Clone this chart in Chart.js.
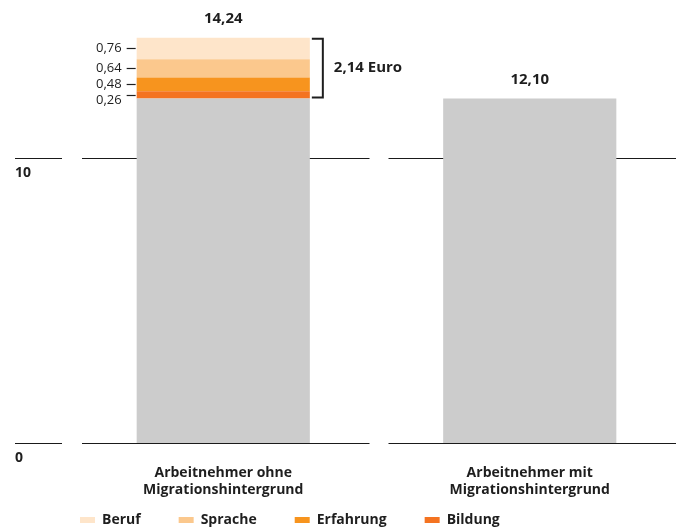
<!DOCTYPE html>
<html>
<head>
<meta charset="utf-8">
<script src="https://cdn.jsdelivr.net/npm/chart.js@4"></script>
<style>
  body { margin: 0; background: #fff; }
  #wrap { width: 683px; height: 532px; position: relative; }
</style>
</head>
<body>
<div id="wrap"><canvas id="lohnChart"></canvas></div>
<script>
// Daten
const categories = [['Arbeitnehmer ohne', 'Migrationshintergrund'], ['Arbeitnehmer mit', 'Migrationshintergrund']];
const basis = [12.10, 12.10];
const bildung = [0.26, null];
const erfahrung = [0.48, null];
const sprache = [0.64, null];
const beruf = [0.76, null];
const totals = [14.24, 12.10];
const yTickLabels = [0, 10];
const differenzLabel = '2,14 Euro';

const FONT = '"Open Sans", sans-serif';
const TXT = '#1e1e1e';
const fmt = v => v.toFixed(2).replace('.', ',');

// Unterbrochene Gitterlinien + Beschriftungen
const annotations = {
    id: 'annotations',
    beforeDatasetsDraw(chart) {
        const { ctx, chartArea, scales: { x, y } } = chart;
        const catW = x.width / categories.length;
        ctx.save();
        ctx.strokeStyle = '#1a1a1a';
        ctx.lineWidth = 1.2;
        yTickLabels.forEach(v => {
            const py = Math.round(y.getPixelForValue(v)) + 0.5;
            ctx.beginPath();
            ctx.moveTo(15, py); ctx.lineTo(chartArea.left - 8, py);
            categories.forEach((c, i) => {
                const cx = x.getPixelForValue(i);
                ctx.moveTo(cx - catW / 2 + 12, py);
                ctx.lineTo(cx + catW / 2 - 7, py);
            });
            ctx.stroke();
            ctx.fillStyle = TXT;
            ctx.font = 'bold 14px ' + FONT;
            ctx.textAlign = 'left';
            ctx.textBaseline = 'middle';
            ctx.fillText(String(v), 15, py + 15);
        });
        ctx.restore();
    },
    afterDatasetsDraw(chart) {
        const { ctx, scales: { x, y } } = chart;
        ctx.save();
        ctx.fillStyle = TXT;
        ctx.strokeStyle = TXT;

        // Summen über den Balken
        ctx.font = 'bold 15px ' + FONT;
        ctx.textAlign = 'center';
        ctx.textBaseline = 'middle';
        totals.forEach((t, i) => {
            ctx.fillText(fmt(t), x.getPixelForValue(i), y.getPixelForValue(t) - 19);
        });

        // Segmentwerte links vom ersten Balken
        const bar = chart.getDatasetMeta(0).data[0];
        const left = bar.x - bar.width / 2;
        const right = bar.x + bar.width / 2;
        const segs = [beruf, sprache, erfahrung, bildung];
        let base = totals[0];
        let lastY = -100;
        ctx.font = '13px ' + FONT;
        ctx.textAlign = 'right';
        ctx.lineWidth = 1.2;
        segs.forEach(s => {
            const v = s[0];
            const yc = y.getPixelForValue(base - v / 2);
            base -= v;
            const ty = Math.round(yc) + 0.5;
            ctx.beginPath();
            ctx.moveTo(left - 10, ty); ctx.lineTo(left - 1, ty);
            ctx.stroke();
            const ly = Math.max(yc, lastY + 16);
            lastY = ly;
            ctx.fillText(fmt(v), left - 15, ly);
        });

        // Klammer
        const yTop = y.getPixelForValue(totals[0]);
        const yBot = y.getPixelForValue(basis[0]);
        const bx = right + 13;
        ctx.lineWidth = 2;
        ctx.beginPath();
        ctx.moveTo(right + 2, yTop + 1);
        ctx.lineTo(bx, yTop + 1);
        ctx.lineTo(bx, yBot - 1);
        ctx.lineTo(right + 2, yBot - 1);
        ctx.stroke();
        ctx.font = 'bold 15px ' + FONT;
        ctx.textAlign = 'left';
        ctx.fillText(differenzLabel, bx + 11, (yTop + yBot) / 2);
        ctx.restore();
    }
};

const barOpts = { categoryPercentage: 1, barPercentage: 0.565, borderWidth: 0, stack: 's' };

new Chart(document.getElementById('lohnChart'), {
    type: 'bar',
    data: {
        labels: categories,
        datasets: [
            { label: 'Basis', data: basis, backgroundColor: '#cccccc', ...barOpts },
            { label: 'Bildung', data: bildung, backgroundColor: '#f47321', ...barOpts },
            { label: 'Erfahrung', data: erfahrung, backgroundColor: '#f7941e', ...barOpts },
            { label: 'Sprache', data: sprache, backgroundColor: '#fbc88d', ...barOpts },
            { label: 'Beruf', data: beruf, backgroundColor: '#fee5ca', ...barOpts }
        ]
    },
    options: {
        responsive: true,
        maintainAspectRatio: false,
        animation: false,
        layout: { padding: { left: 70, right: 0, top: 16, bottom: -5 } },
        scales: {
            x: {
                stacked: true,
                grid: { display: false },
                border: { display: false },
                ticks: { color: TXT, font: { family: FONT, size: 14, weight: 'bold' }, padding: 14 },
                afterFit: scale => { scale.height -= 9.5; }
            },
            y: {
                stacked: true,
                display: false,
                min: 0,
                max: 15
            }
        },
        plugins: {
            legend: {
                position: 'bottom',
                align: 'start',
                reverse: true,
                labels: {
                    // etwas mehr Abstand zwischen den Einträgen
                    generateLabels: chart => Chart.defaults.plugins.legend.labels.generateLabels(chart)
                        .map(item => ({ ...item, text: item.text + '\u2002\u2002\u2002\u2002' })),
                    filter: item => !item.text.startsWith('Basis'),
                    boxWidth: 15,
                    boxHeight: 6,
                    padding: 10,
                    color: TXT,
                    font: { family: FONT, size: 14, weight: 'bold' }
                }
            },
            tooltip: { enabled: false }
        }
    },
    plugins: [annotations]
});
</script>
</body>
</html>
